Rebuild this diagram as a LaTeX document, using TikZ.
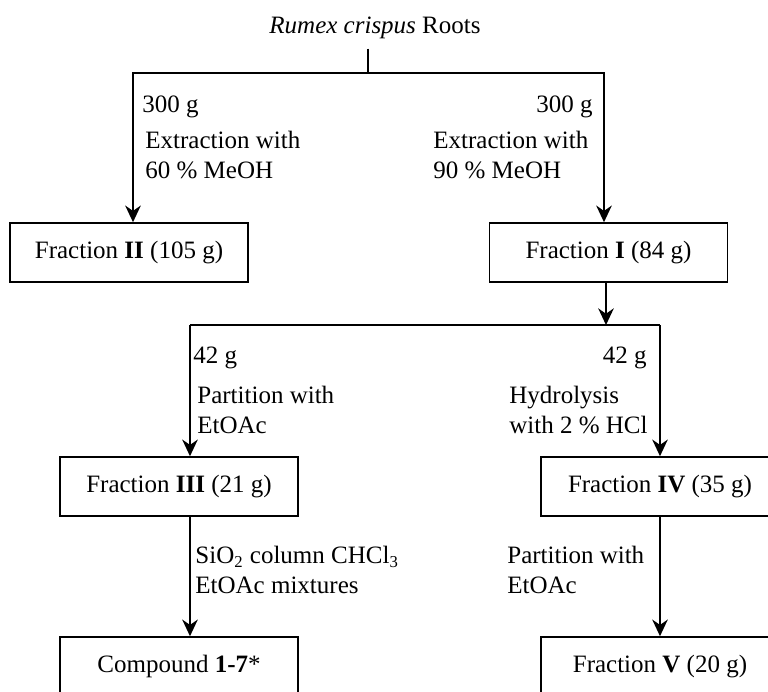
\documentclass[tikz,border=0pt]{standalone}
\usepackage{fontspec}
\setmainfont{Liberation Serif}
\usetikzlibrary{arrows.meta}
\tikzset{
  box/.style={rectangle, draw, line width=0.8pt, minimum height=28.3pt, minimum width=114.2pt, align=center, font=\fontsize{12}{14.4}\selectfont},
  arrow/.style={-{Stealth[length=8pt, width=7.5pt, inset=2.6pt]}, line width=0.7pt},
  link/.style={line width=0.7pt},
  note/.style={inner sep=0pt, align=left, font=\fontsize{12}{14.4}\selectfont},
}

\begin{document}
\begin{tikzpicture}[x=0.48pt, y=-0.48pt]
    \useasboundingbox (0,0) rectangle (768,691);
    \clip (0,0) rectangle (768,691);

    % boxes
    \node[note, inner ysep=4.8pt, anchor=base] (root) at (375,33) {\textit{Rumex crispus} Roots};
    \node[box] (f2) at (129,252.5) {Fraction \textbf{II} (105 g)};
    \node[box] (f1) at (608.5,252.5) {Fraction \textbf{I} (84 g)};
    \node[box] (f3) at (179,486.5) {Fraction \textbf{III} (21 g)};
    \node[box] (f4) at (660,486.5) {Fraction \textbf{IV} (35 g)};
    \node[box] (comp) at (179,666.5) {Compound \textbf{1-7}*};
    \node[box] (f5) at (660,666.5) {Fraction \textbf{V} (20 g)};

    % branch points
    \coordinate (top) at (368,73);
    \coordinate (tl) at (133,73);
    \coordinate (tr) at (604,73);
    \coordinate (mid) at (606,325);
    \coordinate (ml) at (190,325);
    \coordinate (mr) at (660,325);

    \draw[link] (root.south -| top) -- (top);
    \draw[arrow] (top) -| (tl |- f2.north);
    \draw[arrow] (top) -| (tr |- f1.north);
    \draw[arrow] (f1.south -| mid) -- (mid);
    \draw[link] (ml) -- (mr);
    \draw[arrow] (ml) -- (ml |- f3.north);
    \draw[arrow] (mr) -- (f4.north);
    \draw[arrow] (f3.south -| ml) -- (comp.north -| ml);
    \draw[arrow] (f4) -- (f5);

    % labels
    \node[note, anchor=base west] (w1) at (142,112) {300 g};
    \node[note, anchor=base east] (w2) at (593,112) {300 g};
    \node[note, anchor=north west] (ex1) at (145,131) {Extraction with\\60~\% MeOH};
    \node[note, anchor=north west] (ex2) at (433,131) {Extraction with\\90~\% MeOH};
    \node[note, anchor=base west] (w3) at (193,363) {42 g};
    \node[note, anchor=base east] (w4) at (647,363) {42 g};
    \node[note, anchor=north west] (pa1) at (197,386) {Partition with\\EtOAc};
    \node[note, anchor=north west] (hy) at (509,386) {Hydrolysis\\with 2~\% HCl};
    \node[note, anchor=north west] (si) at (195,546) {SiO\textsubscript{2} column CHCl\textsubscript{3}\\EtOAc mixtures};
    \node[note, anchor=north west] (pa2) at (507,546) {Partition with\\EtOAc};
\end{tikzpicture}
\end{document}
